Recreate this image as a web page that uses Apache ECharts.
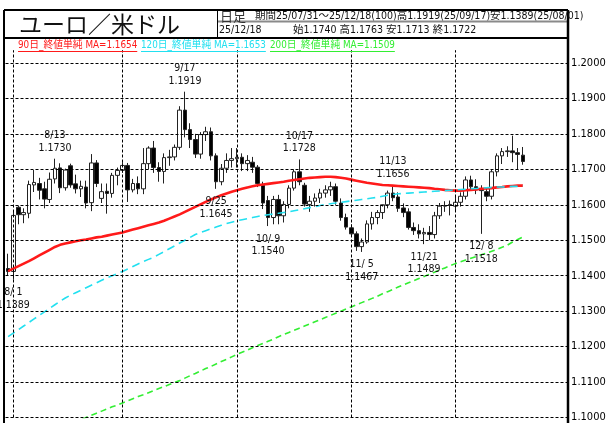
<!DOCTYPE html>
<html><head><meta charset="utf-8">
<script src="https://cdn.jsdelivr.net/npm/echarts@6.0.0/dist/echarts.min.js"></script>
<style>html,body{margin:0;padding:0;background:#fff;}#c{width:610px;height:423px;}</style>
</head><body><div id="c"></div>
<script>
// ---------- data ----------
const dates = ['7/31',
 '8/1','8/4','8/5','8/6','8/7','8/8','8/11','8/12','8/13','8/14','8/15','8/18','8/19','8/20','8/21','8/22','8/25','8/26','8/27','8/28','8/29',
 '9/1','9/2','9/3','9/4','9/5','9/8','9/9','9/10','9/11','9/12','9/15','9/16','9/17','9/18','9/19','9/22','9/23','9/24','9/25','9/26','9/29','9/30',
 '10/1','10/2','10/3','10/6','10/7','10/8','10/9','10/10','10/13','10/14','10/15','10/16','10/17','10/20','10/21','10/22','10/23','10/24','10/27','10/28','10/29','10/30',
 '11/3','11/4','11/5','11/6','11/7','11/10','11/11','11/12','11/13','11/14','11/17','11/18','11/19','11/20','11/21','11/24','11/25','11/26','11/27','11/28',
 '12/1','12/2','12/3','12/4','12/5','12/8','12/9','12/10','12/11','12/12','12/15','12/16','12/17','12/18'];
const opens = [1.1420,
 1.1412,1.1593,1.1572,1.1576,1.1656,1.1660,1.1645,1.1615,1.1673,1.1704,1.1648,1.1710,1.1659,1.1645,1.1650,1.1606,1.1718,1.1618,1.1638,1.1632,1.1683,
 1.1697,1.1711,1.1642,1.1660,1.1645,1.1716,1.1760,1.1705,1.1694,1.1733,1.1735,1.1762,1.1867,1.1812,1.1784,1.1743,1.1798,1.1806,1.1738,1.1665,1.1703,1.1725,
 1.1730,1.1734,1.1716,1.1720,1.1706,1.1655,1.1612,1.1564,1.1615,1.1569,1.1601,1.1647,1.1693,1.1655,1.1601,1.1610,1.1619,1.1633,1.1642,1.1651,1.1605,1.1564,
 1.1535,1.1518,1.1482,1.1495,1.1546,1.1564,1.1578,1.1600,1.1633,1.1622,1.1591,1.1580,1.1536,1.1527,1.1518,1.1522,1.1516,1.1569,1.1596,1.1598,
 1.1596,1.1607,1.1624,1.1670,1.1651,1.1645,1.1637,1.1624,1.1693,1.1738,1.1750,1.1752,1.1747,1.1740];
const highs = [1.1462,
 1.1582,1.1597,1.1590,1.1668,1.1698,1.1676,1.1665,1.1691,1.1730,1.1717,1.1702,1.1716,1.1685,1.1668,1.1668,1.1743,1.1726,1.1660,1.1660,1.1690,1.1705,
 1.1720,1.1718,1.1673,1.1680,1.1760,1.1765,1.1780,1.1720,1.1745,1.1755,1.1770,1.1878,1.1919,1.1830,1.1800,1.1805,1.1820,1.1818,1.1745,1.1715,1.1745,1.1760,
 1.1760,1.1745,1.1740,1.1735,1.1712,1.1665,1.1625,1.1625,1.1628,1.1610,1.1655,1.1700,1.1728,1.1662,1.1625,1.1632,1.1645,1.1655,1.1665,1.1660,1.1618,1.1575,
 1.1545,1.1525,1.1505,1.1556,1.1580,1.1585,1.1595,1.1640,1.1656,1.1635,1.1604,1.1590,1.1550,1.1545,1.1535,1.1540,1.1580,1.1605,1.1610,1.1612,
 1.1625,1.1635,1.1680,1.1682,1.1672,1.1655,1.1650,1.1700,1.1745,1.1760,1.1765,1.1795,1.1760,1.1763];
const lows = [1.1400,
 1.1389,1.1545,1.1548,1.1562,1.1636,1.1615,1.1590,1.1605,1.1660,1.1633,1.1640,1.1648,1.1632,1.1622,1.1590,1.1582,1.1650,1.1605,1.1575,1.1620,1.1655,
 1.1690,1.1608,1.1635,1.1630,1.1630,1.1700,1.1690,1.1665,1.1660,1.1710,1.1725,1.1755,1.1790,1.1760,1.1732,1.1730,1.1780,1.1725,1.1645,1.1655,1.1690,1.1705,
 1.1705,1.1695,1.1695,1.1690,1.1650,1.1588,1.1540,1.1545,1.1545,1.1550,1.1590,1.1640,1.1655,1.1595,1.1580,1.1595,1.1605,1.1620,1.1625,1.1600,1.1555,1.1530,
 1.1510,1.1470,1.1467,1.1490,1.1530,1.1545,1.1560,1.1590,1.1610,1.1580,1.1565,1.1530,1.1515,1.1505,1.1489,1.1500,1.1505,1.1560,1.1580,1.1570,
 1.1585,1.1595,1.1615,1.1640,1.1630,1.1518,1.1610,1.1615,1.1680,1.1715,1.1735,1.1720,1.1700,1.1713];
const closes = [1.1412,
 1.1570,1.1572,1.1578,1.1657,1.1663,1.1641,1.1616,1.1672,1.1703,1.1648,1.1698,1.1656,1.1645,1.1652,1.1605,1.1718,1.1660,1.1637,1.1632,1.1683,1.1697,
 1.1711,1.1642,1.1660,1.1645,1.1716,1.1760,1.1705,1.1694,1.1733,1.1735,1.1762,1.1867,1.1812,1.1784,1.1743,1.1798,1.1806,1.1738,1.1665,1.1703,1.1725,1.1730,
 1.1734,1.1716,1.1725,1.1706,1.1660,1.1605,1.1564,1.1615,1.1569,1.1601,1.1647,1.1693,1.1665,1.1602,1.1610,1.1619,1.1633,1.1642,1.1651,1.1610,1.1564,1.1537,
 1.1518,1.1482,1.1495,1.1546,1.1564,1.1578,1.1600,1.1633,1.1620,1.1590,1.1578,1.1536,1.1527,1.1518,1.1522,1.1516,1.1569,1.1596,1.1598,1.1601,
 1.1607,1.1624,1.1670,1.1651,1.1642,1.1640,1.1624,1.1693,1.1738,1.1750,1.1752,1.1747,1.1742,1.1722];
const ma90 = [1.1413,
 1.1420,1.1427,1.1434,1.1441,1.1449,1.1457,1.1465,1.1473,1.1481,1.1487,1.1491,1.1494,1.1497,1.1500,1.1502,1.1505,1.1508,1.1510,1.1513,1.1516,1.1519,
 1.1522,1.1526,1.1530,1.1534,1.1538,1.1542,1.1546,1.1550,1.1555,1.1561,1.1567,1.1573,1.1580,1.1587,1.1594,1.1601,1.1608,1.1615,1.1621,1.1627,1.1632,1.1637,
 1.1641,1.1645,1.1649,1.1652,1.1655,1.1657,1.1659,1.1661,1.1663,1.1665,1.1668,1.1670,1.1672,1.1674,1.1676,1.1677,1.1678,1.1679,1.1679,1.1678,1.1676,1.1674,
 1.1671,1.1668,1.1665,1.1662,1.1660,1.1658,1.1656,1.1655,1.1654,1.1653,1.1652,1.1651,1.1650,1.1649,1.1648,1.1647,1.1645,1.1644,1.1642,1.1641,
 1.1640,1.1640,1.1641,1.1642,1.1643,1.1645,1.1646,1.1647,1.1649,1.1650,1.1652,1.1653,1.1654,1.1654];
const ma120 = [1.1228,
 1.1238,1.1248,1.1258,1.1268,1.1278,1.1288,1.1298,1.1308,1.1318,1.1328,1.1337,1.1345,1.1352,1.1359,1.1366,1.1373,1.1380,1.1387,1.1394,1.1400,1.1406,
 1.1412,1.1419,1.1426,1.1433,1.1440,1.1446,1.1452,1.1460,1.1468,1.1476,1.1484,1.1492,1.1500,1.1508,1.1516,1.1522,1.1527,1.1532,1.1537,1.1542,1.1547,1.1551,
 1.1555,1.1558,1.1561,1.1564,1.1567,1.1570,1.1572,1.1574,1.1576,1.1578,1.1580,1.1583,1.1586,1.1589,1.1592,1.1595,1.1598,1.1601,1.1603,1.1605,1.1607,1.1609,
 1.1611,1.1613,1.1615,1.1617,1.1619,1.1621,1.1624,1.1627,1.1629,1.1631,1.1632,1.1633,1.1634,1.1635,1.1636,1.1637,1.1638,1.1639,1.1640,1.1641,
 1.1642,1.1643,1.1644,1.1645,1.1646,1.1647,1.1648,1.1649,1.1650,1.1650,1.1651,1.1652,1.1652,1.1653];
const ma200 = [1.0910,
 1.0916,1.0922,1.0928,1.0934,1.0940,1.0946,1.0952,1.0958,1.0964,1.0970,1.0976,1.0982,1.0988,1.0994,1.1000,1.1006,1.1012,1.1018,1.1024,1.1030,1.1035,
 1.1041,1.1047,1.1053,1.1059,1.1064,1.1070,1.1076,1.1082,1.1087,1.1093,1.1099,1.1104,1.1111,1.1118,1.1124,1.1131,1.1138,1.1144,1.1151,1.1158,1.1164,1.1171,
 1.1178,1.1184,1.1190,1.1197,1.1203,1.1209,1.1215,1.1221,1.1228,1.1234,1.1240,1.1246,1.1252,1.1258,1.1264,1.1270,1.1276,1.1282,1.1288,1.1294,1.1300,1.1306,
 1.1312,1.1318,1.1324,1.1330,1.1336,1.1342,1.1349,1.1355,1.1361,1.1368,1.1374,1.1380,1.1386,1.1392,1.1398,1.1404,1.1410,1.1416,1.1422,1.1428,
 1.1434,1.1439,1.1444,1.1449,1.1454,1.1459,1.1464,1.1469,1.1474,1.1480,1.1486,1.1495,1.1502,1.1509];
const yTicks = [1.10,1.11,1.12,1.13,1.14,1.15,1.16,1.17,1.18,1.19,1.20];
const monthStarts = ['8/1','9/1','10/1','11/3','12/1'];
const peakDates = ['8/13','9/17','10/17','11/13'];
const troughDates = ['8/1','9/25','10/9','11/5','11/21','12/8'];
const padCount = 8;

const titleText = 'ユーロ／米ドル';
const headRow1a = '日足';
const headRow1b = '期間25/07/31～25/12/18(100)高1.1919(25/09/17)安1.1389(25/08/01)';
const headRow2a = '25/12/18';
const headRow2b = '始1.1740 高1.1763 安1.1713 終1.1722';
const legendTexts = ['90日_終値単純 MA=1.1654','120日_終値単純 MA=1.1653','200日_終値単純 MA=1.1509'];
const maColors = ['#ff1a1a','#22e0f0','#33ee33'];

// ---------- build ----------
const F = '"DejaVu Sans Condensed","Noto Sans CJK JP",sans-serif';
const cats = dates.slice();
for (let k = 0; k < padCount; k++) cats.push('pad' + k);
const candle = dates.map((d, i) => [opens[i], closes[i], lows[i], highs[i]]);
function fmtDate(d) { const p = d.split('/'); return p[0] + '/' + (p[1].length < 2 ? ' ' + p[1] : p[1]); }

const mctx = document.createElement('canvas').getContext('2d');
function tw(text, font) { mctx.font = font; return mctx.measureText(text).width; }

const markData = [];
peakDates.forEach(d => { const i = dates.indexOf(d);
  markData.push({coord: [d, highs[i]], label: {position: 'top', distance: 4, formatter: fmtDate(d) + '\n' + highs[i].toFixed(4)}}); });
troughDates.forEach(d => { const i = dates.indexOf(d);
  markData.push({coord: [d, lows[i]], label: {position: 'bottom', distance: 6, formatter: fmtDate(d) + '\n' + lows[i].toFixed(4)}}); });

const graphic = [];
function gline(x1, y1, x2, y2, w, c, z) { graphic.push({type: 'line', z: z || 100, silent: true, shape: {x1, y1, x2, y2}, style: {stroke: c || '#000', lineWidth: w}}); }
function gtext(x, y, text, font, fill, z) { graphic.push({type: 'text', z: z || 101, silent: true, x: x, y: y,
  style: {text: text, font: font, fill: fill || '#000', textVerticalAlign: 'middle', verticalAlign: 'middle', textAlign: 'left', align: 'left'}}); }

// frame
gline(4, 10, 568, 10, 2);
gline(4, 38, 568, 38, 2);
gline(4, 10, 4, 423, 2);
gline(568, 10, 568, 423, 2.5);
gline(217.5, 10, 217.5, 38, 1);
gline(218, 21.5, 567, 21.5, 2, '#8a8a8a', 99);
// header texts
gtext(19, 24, titleText, 'normal 23px "Noto Sans CJK JP",sans-serif', '#111');
gtext(220, 16, headRow1a, 'normal 13px "Noto Sans CJK JP",sans-serif', '#333');
gtext(255, 16, headRow1b, 'normal 10.5px ' + F, '#111');
gtext(219, 30, headRow2a, 'normal 10.5px ' + F, '#111');
gtext(293, 30, headRow2b, 'normal 10.5px ' + F, '#111');
// legend
const legX = [18, 141, 270];
legendTexts.forEach((t, k) => {
  const font = 'normal 9.8px ' + F;
  gtext(legX[k], 45, t, font, maColors[k]);
  gline(legX[k], 51.5, legX[k] + tw(t, font), 51.5, 1, maColors[k]);
});

const dash = [3, 2];
const option = {
  animation: false,
  backgroundColor: '#fff',
  grid: {left: 5.5, top: 50.2, width: 561.6, height: 376.4, containLabel: false},
  xAxis: {type: 'category', data: cats, boundaryGap: true,
    axisLine: {show: false}, axisTick: {show: false}, axisLabel: {show: false}, splitLine: {show: false}},
  yAxis: {type: 'value', position: 'right', min: 1.10, max: 1.2036, interval: 0.01, scale: true,
    axisLine: {show: false}, axisTick: {show: false}, splitLine: {show: false},
    axisLabel: {show: true, margin: 4, color: '#000', fontSize: 11, fontFamily: F, showMaxLabel: false,
      padding: [0, 0, 6, 0], formatter: v => v.toFixed(4)}},
  graphic: graphic,
  series: [
    {type: 'scatter', data: [], z: 1, silent: true,
      markLine: {silent: true, symbol: ['none', 'none'], label: {show: false}, animation: false,
        lineStyle: {color: '#000', width: 1, type: dash},
        data: yTicks.map(v => ({yAxis: v})).concat(monthStarts.map(d => ({xAxis: d})))}},
    {type: 'candlestick', data: candle, z: 3, barWidth: 4,
      itemStyle: {color: '#ffffff', color0: '#000000', borderColor: '#222', borderColor0: '#222', borderWidth: 1},
      markPoint: {symbol: 'circle', symbolSize: 1, silent: true, animation: false,
        itemStyle: {color: 'rgba(0,0,0,0)'},
        label: {show: true, color: '#111', fontSize: 10.5, lineHeight: 12.5, fontFamily: F, align: 'center'},
        data: markData}},
    {type: 'line', data: ma90, z: 4, symbol: 'none', silent: true, lineStyle: {color: maColors[0], width: 2.6}},
    {type: 'line', data: ma120, z: 4, symbol: 'none', silent: true, lineStyle: {color: maColors[1], width: 1.6, type: [8, 5]}},
    {type: 'line', data: ma200, z: 4, symbol: 'none', silent: true, lineStyle: {color: maColors[2], width: 1.6, type: [6, 4]}}
  ]
};
const chart = echarts.init(document.getElementById('c'), null, {renderer: 'canvas'});
chart.setOption(option);
</script>
</body></html>
